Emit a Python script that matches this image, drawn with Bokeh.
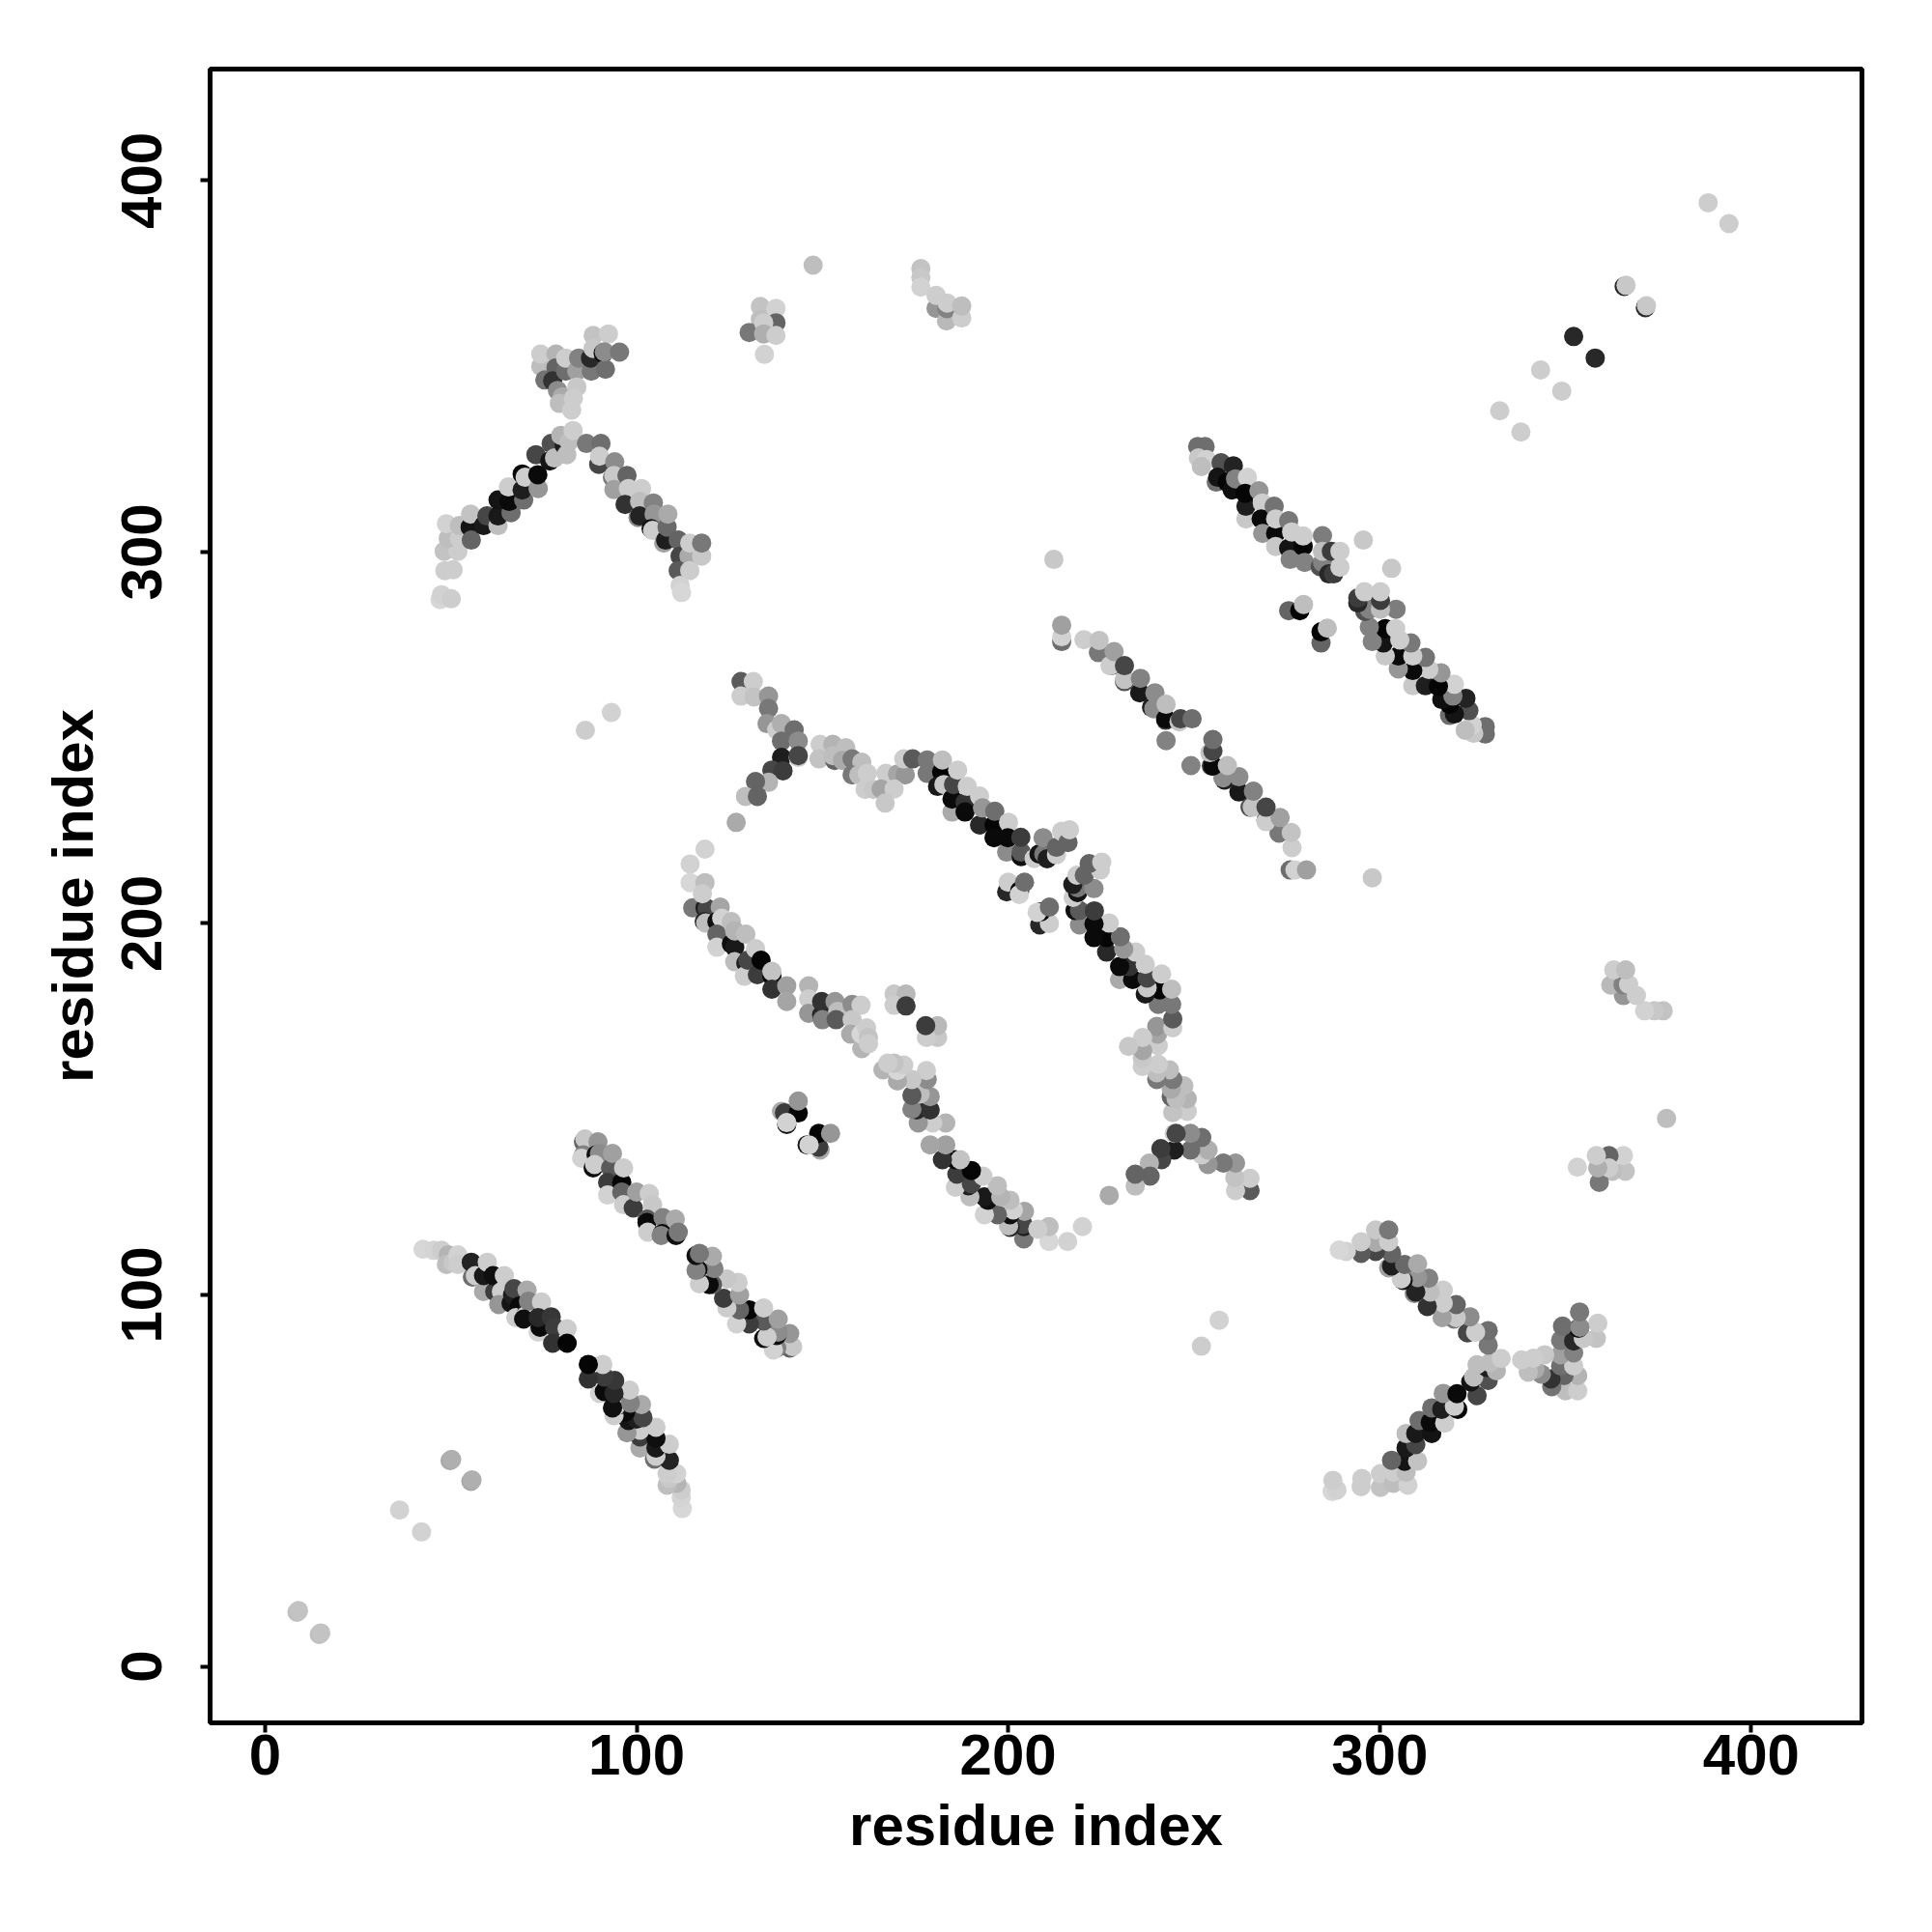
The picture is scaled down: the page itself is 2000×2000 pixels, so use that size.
from bokeh.plotting import figure
from bokeh.models import Range1d, FixedTicker, ColumnDataSource
from bokeh.embed import file_html
from bokeh.resources import INLINE

x_ticks = [0, 100, 200, 300, 400]
axis_title = "residue index"

# contacts (residue i, residue j, grey level); the map is symmetric, so each is drawn at (i,j) and (j,i)
band_a = [(42.5,112.3,215),(45.4,112,212),(47.5,112,205),(49.3,110.8,180),(48.8,108.2,190),(50.6,108.7,200),(51.9,110.8,210),(51.9,108.2,205),
(55.8,104.8,110),(55.5,108.8,35),(56.6,105.2,205),(58.8,100.9,170),(58.8,105.2,25),(59.8,108.8,205),(61.8,100.9,60),(61.4,105.2,15),(63.6,100.9,205),
(62.9,97.4,150),(64.4,105.2,205),(66.2,97.8,20),(66.6,100,30),(67,101.7,70),(70.5,101.3,170),(68.5,97,10),(67.5,93.9,205),(70.5,95.7,25),(70.1,94.4,205),(70.9,98.3,130),
(69.6,93.5,15),(74.4,98.1,205),(73.5,90,210),(74,91.3,10),(73.5,93.9,40),(77,94.1,55),(77.9,91.3,60),(77.4,87,50),(81.3,90.9,205),(81.3,87,5)]
band_b = [(85.7,141.2,100),(86.1,142,200),(85.7,137.7,130),(85.2,136.8,210),(89.6,141.2,150),(89.1,137.7,15),(90,138.1,140),(88.3,134.2,15),(88.7,135.1,205),
(93,134.2,90),(93.5,138.1,160),(92.2,130.3,60),(92.2,126.9,210),(96,130.3,5),(96.5,134.2,205),(96,127.7,100),(96.5,124.3,205),(99.1,123.4,60),(100,127.7,160),
(103.4,127.3,205),(104.3,124.3,200),(102.8,120.4,90),(102.8,119.5,10),(103,116.9,205),(107.1,120.8,130),(106.9,116.5,10),(106.6,116,130),(110.4,120.4,170),(110.6,116,15),(111.2,116.9,120)]
band_c = [(115.1,204.2,120),(118.4,204.2,30),(119,204,70),(118.2,200.5,40),(118.6,200.1,190),(122.5,204.4,165),(121.6,200.5,15),(122.9,201.4,210),(121.6,197.1,100),(121.6,193.6,210),
(125.5,200.5,190),(125.5,194.5,15),(126.4,193.6,25),(126.4,189.7,190),(126.4,198,180),(129.4,197.1,190),(129.4,189.3,30),(129,185.8,205),(129.9,190.1,70),(132,193.2,205),
(132.5,186.2,60),(133.5,190.1,5),(136.4,185.8,10),(136.4,187.1,195),(136.4,182.3,50),(140.4,183.2,160),(140.4,179,165),(146.3,183.2,180),(146.3,179.7,205),(146.3,175.8,150),
(149.8,175.4,40),(149.8,179,50),(150,174.1,130),(153.4,179,150),(154.1,176.3,190),(153.7,174.1,90),(158,178.2,140),(160.4,178,205),(158,174.1,200),(157.6,170.2,170),
(160.6,166.3,180),(160.4,170.2,215),(161.9,171.9,205),(162.4,169.3,195),(162.4,167.6,205)]
blob_c = [(169.3,181,200),(172.5,181,185),(169.3,178,205),(172.5,177.8,60)]
blob_d = [(139,149.4,170),(139.8,149,60),(143.5,149,5),(143.5,152.2,150),(140.4,145.9,20),(140.4,146.4,210)]
band_d = [(128.1,265.1,90),(131.4,265.1,205),(128.1,261.2,205),(131.6,261,195),(135.5,261.2,150),(135.5,257.9,120),(135.1,253.8,150),(137.7,252.1,205),(139,253.8,175),(142.4,252.1,110),
(139,249.1,110),(143.5,249.1,140),(139,244.7,30),(143.5,244.7,205),(143.5,245.2,70),(136.4,241.3,70),(139.4,241.1,60),(135.5,238,180),(132,238.2,100),(129.3,234.2,190),(132.5,234.2,100),(126.8,227.2,170),
(118.4,220,210),(114.4,216,210),(114.4,211,215),(118.4,211,190),(117.7,208,205)]
band_ring = [(149.4,248.2,205),(149.1,244.3,195),(153.3,243.9,100),(152.8,248.2,180),(152.8,245.2,190),(156.3,247.3,190),(155.4,243.9,170),(158,244.3,120),(160.6,243.4,190),(158,240,120),(159.8,240,190),
(162.1,240.4,205),(167.1,240.4,205),(170.2,240.2,165),(172.3,240,150),(161.5,236.1,205),(163.7,236.1,200),(165.8,236.2,165),(169.3,236.2,205),(166.9,232.4,200),(171.9,244.3,205),(174.3,244.3,90)]
band_e = [(178.2,244,120),(178.2,240.4,120),(182.1,240.8,5),(182.3,244,190),(181,236.9,25),(182.7,237.4,200),(184.9,230,170),(184.9,233.5,10),(185.3,237.4,70),(186.4,241.3,205),(188.4,232.6,50),(188.4,230,10),
(189,236.9,205),(192.3,226.5,40),(192.3,234.3,205),(193.1,231.1,150),(196.2,226.5,5),(196.2,223.1,10),(196.4,230.2,110),(200.1,227.2,205),(199.6,219.2,140),(199.9,223.1,10),(203.5,218,15),(203.5,219.2,90),(203.4,223.2,60),
(207,217.5,205),(208.3,218.7,20),(209.6,218.7,120),(209.4,223.1,140),(210.5,217.4,30),(213,218.5,205),(213,220.5,100),(214.4,224.8,205),(216.1,221.8,100),(216.5,225.2,205)]
blob_f = [(199.6,208.5,40),(200,211.1,205),(203.1,208.8,10),(203,207.8,210),(204.4,211.1,110)]
band_f = [(214.4,275.9,110),(214.4,277.2,210),(214.4,280.3,160),(220.4,276.4,205),(224.3,272.9,120),(224.5,276.2,195),(227.8,269.4,90),(227.4,269.4,205),(228.5,273.2,160),(231.3,265.1,80),(231.3,265.7,195),(231.3,269.4,70),
(235.4,262.1,25),(235.6,266,130),(238.6,258.2,30),(239.2,257.8,140),(239.5,262.1,140),(242.4,254.7,60),(242.4,255.1,10),(242.5,259,190),(242.5,249.2,130),(246,254.3,195),(246.4,255.1,70),(249.5,255.1,110)]
band_g = [(251,328.4,110),(253,328.4,110),(251.2,325.3,200),(253.4,324.9,210),(252,323,190),(256,318.8,110),(257.3,324,80),(256.4,320.1,20),(259,318.8,5),(260.3,316.7,15),(260.6,323.2,35),(261.2,319.7,130),(264.4,320.1,210),
(264,308.9,200),(264,312.3,30),(263.8,315.8,5),(267.5,316.5,150),(268.4,313.2,205),(268.1,308.9,10),(268.5,305,150),(271.6,312.3,115),(272,305,10),(272,308.9,205),(272,301.5,200),(275.5,308.4,120),(275.5,301,20),(276.3,305.4,205),
(275.9,298,130),(279.4,301.5,5),(279.4,304.3,205),(279.8,297.2,130),(284,296,80),(284.6,304.4,125),(284.6,297.2,130),(284.6,300.2,190),(286.3,294.1,40),(287.6,294.1,60),(287,300.2,60),(289.3,295.9,205),(289.3,300.2,205)]
blob_g = [(275.5,284.2,100),(278.5,284.2,5),(279.5,285.9,190)]
band_h = [(47.1,287.2,215),(47.5,288.5,210),(50.1,287.4,205),(48.4,295,205),(50.6,295.2,205),(48.2,300.2,195),(51.9,300.2,205),(49.3,303.7,190),(48.8,307.6,210),(52.3,303.7,205),(52.3,307.1,190),
(55.2,306.7,20),(55.5,303.2,100),(55.3,310.2,195),(58.8,307.1,25),(59.7,309.7,70),(62.7,307.1,190),(62.7,309.7,25),(66.2,310.6,110),(62.7,314,20),(65.7,313.6,10),(65.9,317.1,5),(65.5,317.5,205),(69.6,314,110),(69.2,316.7,30),
(69.2,321,10),(70,320.1,205),(73.5,317.1,150),(73.4,320.8,10),(72.9,326.2,70),(76.6,324.5,20),(77,329.2,80),(77.9,325.3,190),(80.5,328.8,30),(81.2,326.2,190),(79.6,331.4,180),(81.8,329.7,190),(82.9,332.7,205)]
band_h2 = [(86.5,329.2,120),(90.4,329.2,110),(89.8,323.6,70),(90,325.8,205),(94.1,324.3,140),(93.5,320,120),(93.9,320.6,200),(93.9,316.8,160),(97.4,320.6,100),(97.8,317.1,205),(101.3,317.1,205),
(96.9,312.8,50),(100.8,313.6,190),(100.4,309.3,140),(100.8,309.7,35),(104.5,313.2,130),(104.7,310.2,150),(103.9,306.3,20),(104.3,305.8,205),(107.3,302.4,160),(107.8,303.2,30),(108.2,306.7,105),(108.4,310.2,170),
(111.2,303.2,100),(111.7,298.9,70),(114.1,298.9,170),(114.3,302.4,205),(117.5,298.9,200),(117.5,302.4,120),(111.2,295,90),(114.3,295,205),(111.7,291,210),(112.1,289.1,215)]
blob_h = [(74.2,350,190),(74.2,353.3,205),(75.3,346.3,115),(78.3,353.3,180),(78.3,349.6,100),(77.4,346.1,50),(78.7,343.5,140),(80,341.8,170),(79.2,340,190),(80.9,348.7,110),(80.9,352.2,205),(83.9,348.7,160),(84.4,352.2,130),
(83.9,344.4,200),(83,341.4,205),(82.5,338.2,205),(87.8,348.7,120),(87.6,352.2,40),(88.3,358.3,195),(92.4,358.7,205),(88.3,354.8,200),(91,353.5,10),(91.6,349.2,110),(91.3,353.9,140),(95.4,353.8,120)]
top_pts = [(147.5,377.2,190),(133.3,366.1,195),(137.5,365.6,210),(133.3,362.6,190),(137.5,361.7,100),(130.3,359.1,120),(134.2,361.7,205),(134.2,358.7,175),(137.5,358.3,205),(134.4,353.2,210),
(176.5,376.3,195),(176.5,373.9,200),(176.5,371.3,210),(180.6,365.6,150),(180.6,369.1,205),(183.4,362.2,185),(183.5,365.5,130),(183.6,367,205),(187.5,363,205),(187.5,366.2,190)]
small_pts = [(8.6,14.6,190),(9,15,195),(36.2,42.1,210),(49.8,55.4,165),(50.2,55.7,175),(86.2,252,205),(93.2,256.8,210),(212.3,298,200),(295.6,303.2,200),
(332.3,338,205),(343.3,349,205),(352.2,358,40),(365.8,371.5,40),(366.3,371.8,200),(388.4,394,205)]

bands = [band_a, band_b, band_c, blob_c, blob_d, band_d, band_ring, band_e, blob_f, band_f, band_g, blob_g, band_h, band_h2, blob_h, top_pts, small_pts]

xs, ys, cols = [], [], []
for band in bands:
    for i, j, g in band:
        xs += [i, j]
        ys += [j, i]
        cols += [f"#{g:02x}{g:02x}{g:02x}"] * 2

src = ColumnDataSource(dict(x=xs, y=ys, c=cols))

p = figure(width=1984, height=1984, output_backend="svg", toolbar_location=None,
           x_range=Range1d(-14.8, 429.8), y_range=Range1d(-15.2, 430),
           min_border_left=217, min_border_right=57, min_border_top=71, min_border_bottom=201)
p.grid.visible = False
p.background_fill_color = "white"
p.outline_line_color = "black"
p.outline_line_width = 5
p.scatter("x", "y", source=src, size=20, fill_color="c", line_color=None)

for ax in (p.xaxis[0], p.yaxis[0]):
    ax.ticker = FixedTicker(ticks=x_ticks)
    ax.axis_label = axis_title
    ax.axis_label_text_font = "Liberation Sans"
    ax.axis_label_text_font_style = "bold"
    ax.axis_label_text_font_size = "60px"
    ax.axis_label_text_color = "black"
    ax.major_label_text_font = "Liberation Sans"
    ax.major_label_text_font_style = "bold"
    ax.major_label_text_font_size = "60px"
    ax.major_label_text_color = "black"
    ax.major_tick_in = 0
    ax.major_tick_out = 10
    ax.major_tick_line_width = 4
    ax.major_tick_line_color = "black"
    ax.minor_tick_line_color = None
    ax.axis_line_color = None
p.xaxis[0].major_label_standoff = 2
p.xaxis[0].axis_label_standoff = 16
p.yaxis[0].major_label_orientation = "vertical"
p.yaxis[0].major_label_standoff = 40
p.yaxis[0].axis_label_standoff = 15

open("out.html", "w").write(file_html(p, INLINE))
